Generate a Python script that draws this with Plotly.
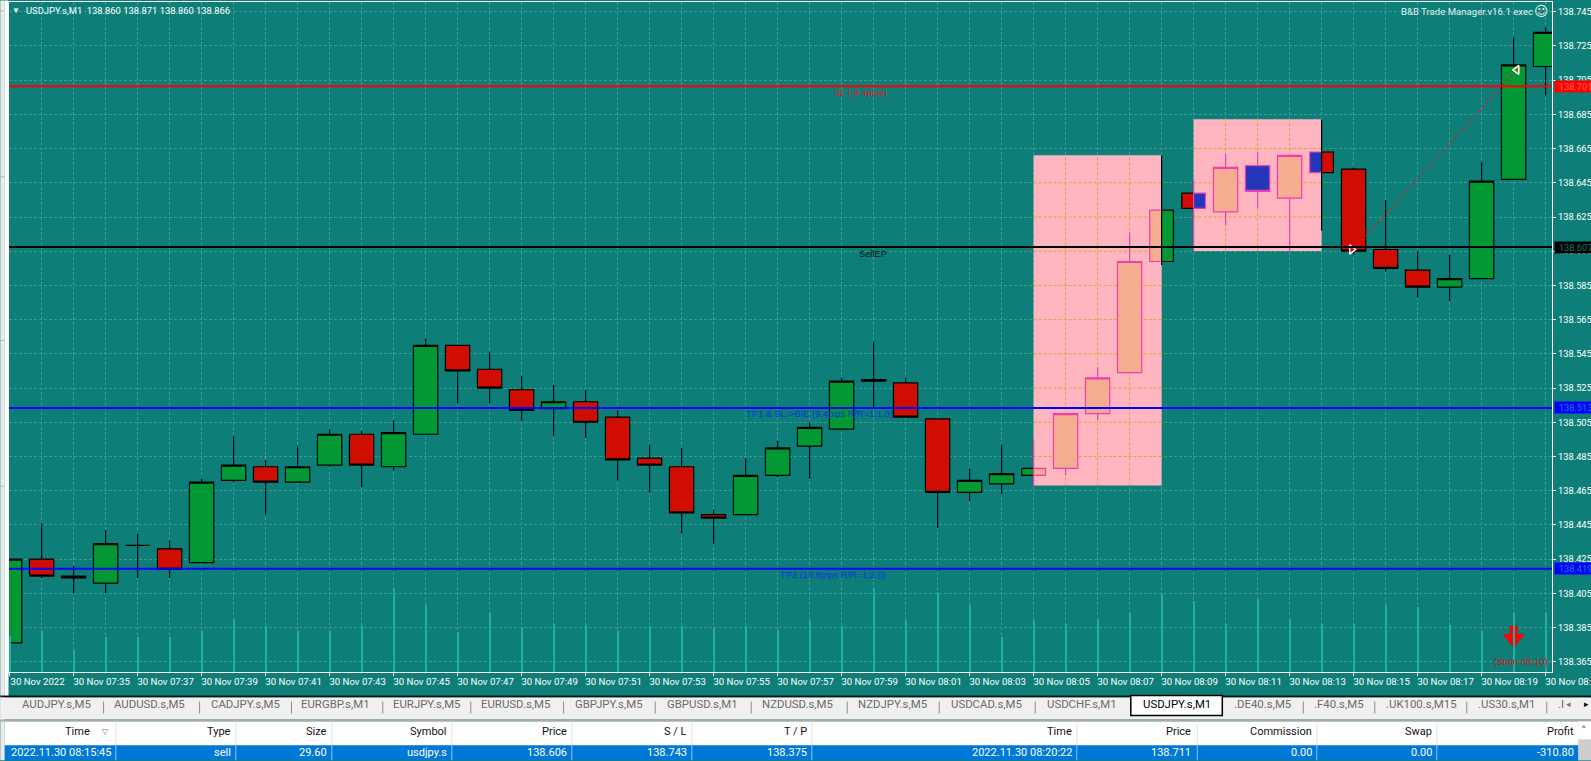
import plotly.graph_objects as go

W, H = 1591, 761
L, R, T, B = 8.7, 1551.7, 1.5, 672.5
FONT = "Roboto"
LINE_FONT = "Liberation Sans"

# ---------- data ----------
bar_index = list(range(49))
opens  = [138.376,138.425,138.415,138.411,138.433,138.431,138.423,138.471,138.479,138.470,138.480,138.498,138.479,138.498,138.550,138.536,138.524,138.513,138.517,138.508,138.484,138.479,138.451,138.451,138.474,138.491,138.501,138.530,138.528,138.507,138.464,138.469,138.474,138.478,138.510,138.534,138.599,138.639,138.628,138.655,138.636,138.663,138.653,138.606,138.594,138.584,138.589,138.647,138.713]
highs  = [138.425,138.446,138.421,138.442,138.440,138.436,138.472,138.497,138.483,138.491,138.501,138.500,138.506,138.554,138.550,138.546,138.532,138.527,138.524,138.512,138.492,138.490,138.454,138.484,138.494,138.505,138.531,138.552,138.531,138.507,138.478,138.492,138.495,138.510,138.537,138.616,138.661,138.647,138.662,138.663,138.661,138.682,138.654,138.635,138.605,138.603,138.657,138.730,138.736]
lows   = [138.376,138.414,138.405,138.405,138.414,138.414,138.423,138.470,138.451,138.470,138.479,138.467,138.477,138.498,138.516,138.516,138.506,138.497,138.496,138.471,138.464,138.440,138.434,138.451,138.473,138.472,138.501,138.513,138.508,138.443,138.459,138.463,138.468,138.474,138.506,138.534,138.597,138.605,138.620,138.630,138.605,138.617,138.603,138.593,138.578,138.576,138.589,138.647,138.696]
closes = [138.425,138.415,138.414,138.434,138.433,138.419,138.470,138.480,138.470,138.479,138.498,138.480,138.499,138.550,138.535,138.525,138.512,138.517,138.505,138.483,138.480,138.452,138.449,138.474,138.490,138.502,138.529,138.529,138.508,138.464,138.471,138.475,138.478,138.510,138.531,138.599,138.629,138.630,138.654,138.640,138.661,138.651,138.605,138.595,138.584,138.589,138.646,138.714,138.733]
volumes = [36,41,22,35,35,35,41,53,46,41,41,47,84,67,40,60,45,48,47,41,46,46,44,46,42,52,46,84,52,79,67,35,52,48,53,59,78,71,48,73,53,48,48,67,65,47,41,60,60]

y_ticks = [138.365,138.385,138.405,138.425,138.445,138.465,138.485,138.505,138.525,138.545,138.565,138.585,138.605,138.625,138.645,138.665,138.685,138.705,138.725,138.745]
x_ticks = [0,2,4,6,8,10,12,14,16,18,20,22,24,26,28,30,32,34,36,38,40,42,44,46,48]
x_labels = ["30 Nov 2022","30 Nov 07:35","30 Nov 07:37","30 Nov 07:39","30 Nov 07:41","30 Nov 07:43","30 Nov 07:45","30 Nov 07:47","30 Nov 07:49","30 Nov 07:51","30 Nov 07:53","30 Nov 07:55","30 Nov 07:57","30 Nov 07:59","30 Nov 08:01","30 Nov 08:03","30 Nov 08:05","30 Nov 08:07","30 Nov 08:09","30 Nov 08:11","30 Nov 08:13","30 Nov 08:15","30 Nov 08:17","30 Nov 08:19","30 Nov 08:21"]

sl_price, entry_price, tp1_price, tp2_price = 138.7014, 138.6074, 138.5134, 138.4194
zone_x0 = [32, 37]
zone_x1 = [36, 41]
zone_y0 = [138.4681, 138.6051]
zone_y1 = [138.6611, 138.6821]
trade_x = [42, 47.1]
trade_y = [138.606, 138.711]
signal_x = 47
signal_y = [138.3861, 138.3805]
signal_tip = 138.3785

tab_names = ["AUDJPY.s,M5","AUDUSD.s,M5","CADJPY.s,M5","EURGBP.s,M1","EURJPY.s,M5","EURUSD.s,M5","GBPJPY.s,M5","GBPUSD.s,M1","NZDUSD.s,M5","NZDJPY.s,M5","USDCAD.s,M5","USDCHF.s,M1","USDJPY.s,M1",".DE40.s,M5",".F40.s,M5",".UK100.s,M15",".US30.s,M1",".I"]
tab_left  = [21,113,209.5,300,392,480,574,666,761,857,949.5,1045.5,1142,1233,1313,1385,1477,1557]
tab_seps  = [102.8,198.8,290.7,382,470,562.8,654.4,750.4,846.4,938.4,1034.4,1302.5,1374,1466,1546]
col_headers = ["Time","Type","Size","Symbol","Price","S / L","T / P","Time","Price","Commission","Swap","Profit"]
col_values = ["2022.11.30 08:15:45","sell","29.60","usdjpy.s","138.606","138.743","138.375","2022.11.30 08:20:22","138.711","0.00","0.00","-310.80"]
col_right = [111.6,232,328,448,568,688,808,1073,1192,1313,1433,1575]
col_seps = [115,235,331,451,571,691,811,1076,1196.5,1316,1436,1578]

# ---------- helpers ----------
def fx(px): return (px - L) / (R - L)
def fy(py): return (B - py) / (B - T)

BG, GRID = "#0e7f78", "#3d9a94"
GREEN, RED = "#029833", "#cf0d00"
SALMON, BLUE, MAG = "#f4ad8e", "#2436bb", "#ee3fb0"
PINK, ORANGE = "#ffb6c1", "#dfa52a"
DASH = "3px,2px"
EDGE = 1.2

inside = [33, 34, 35, 38, 39, 40]
split = [32, 36, 37, 41]
normal = [i for i in bar_index if i not in inside and i not in split]

def pick(arr, idx): return [arr[i] for i in idx]

fig = go.Figure()

# volume lines
fig.add_trace(go.Bar(x=bar_index, y=volumes, yaxis="y2", width=0.03, marker=dict(color="#1fb0a4", line_width=0),
                     hoverinfo="skip", showlegend=False))

# candles split by a zone edge: two half bodies
half_w = 0.37
left_col  = {32: (GREEN, "black"), 36: (SALMON, MAG), 37: (RED, "black"), 41: (BLUE, MAG)}
right_col = {32: (SALMON, MAG), 36: (GREEN, "black"), 37: (BLUE, MAG), 41: (RED, "black")}
for cols, off in ((left_col, -half_w), (right_col, 0)):
    fig.add_trace(go.Bar(
        x=split, base=[min(opens[i], closes[i]) for i in split],
        y=[abs(closes[i] - opens[i]) for i in split],
        width=half_w, offset=off,
        marker=dict(color=[cols[i][0] for i in split], line=dict(color=[cols[i][1] for i in split], width=EDGE)),
        hoverinfo="skip", showlegend=False))

for col, idx in ((MAG, [32, 37]), ("black", [36, 41])):
    xs, ys = [], []
    for i in idx:
        top, bot = max(opens[i], closes[i]), min(opens[i], closes[i])
        xs += [i, i, None, i, i, None]
        ys += [highs[i], top, None, bot, lows[i], None]
    fig.add_trace(go.Scatter(x=xs, y=ys, mode="lines", line=dict(color=col, width=EDGE), hoverinfo="skip", showlegend=False))

# whole candles
def candles(idx, up, down, edge):
    fig.add_trace(go.Candlestick(
        x=idx, open=pick(opens, idx), high=pick(highs, idx), low=pick(lows, idx), close=pick(closes, idx),
        increasing=dict(fillcolor=up, line=dict(color=edge, width=EDGE)),
        decreasing=dict(fillcolor=down, line=dict(color=edge, width=EDGE)),
        whiskerwidth=0, showlegend=False, hoverinfo="skip"))

candles(normal, GREEN, RED, "black")
candles(inside, SALMON, BLUE, MAG)

# closed trade
fig.add_trace(go.Scatter(x=trade_x, y=trade_y, mode="lines", line=dict(color="#f01010", width=1.5, dash="2px,4px"),
                         hoverinfo="skip", showlegend=False))
fig.add_trace(go.Scatter(x=[trade_x[0] - 0.06], y=[trade_y[0]], mode="markers",
                         marker=dict(symbol="triangle-right", size=8, color=RED, line=dict(color="white", width=1.5)),
                         hoverinfo="skip", showlegend=False))
fig.add_trace(go.Scatter(x=[trade_x[1]], y=[trade_y[1]], mode="markers",
                         marker=dict(symbol="triangle-left", size=8, color="#7a7a00", line=dict(color="white", width=1.5)),
                         hoverinfo="skip", showlegend=False))

# 5 minute signal arrow
fig.add_trace(go.Scatter(x=[signal_x, signal_x], y=signal_y, mode="lines", line=dict(color="#ff0000", width=8),
                         hoverinfo="skip", showlegend=False))
fig.add_trace(go.Scatter(x=[signal_x], y=[signal_tip], mode="markers",
                         marker=dict(symbol="triangle-down", size=19, color="#ff0000", line_width=0),
                         hoverinfo="skip", showlegend=False))

# ---------- shapes ----------
shapes = []
for x0, x1, y0, y1 in zip(zone_x0, zone_x1, zone_y0, zone_y1):
    shapes.append(dict(type="rect", xref="x", yref="y", x0=x0, x1=x1, y0=y0, y1=y1, layer="between",
                       fillcolor=PINK, line_width=0))
    for v in y_ticks:
        if y0 < v < y1:
            shapes.append(dict(type="line", xref="x", yref="y", x0=x0, x1=x1, y0=v, y1=v, layer="between",
                               line=dict(color=ORANGE, width=1, dash=DASH)))
    for i in range(x0 + 1, x1):
        shapes.append(dict(type="line", xref="x", yref="y", x0=i, x1=i, y0=y0, y1=y1, layer="between",
                           line=dict(color=ORANGE, width=1, dash=DASH)))

for price, col in ((sl_price, "#ff0000"), (entry_price, "#000000"), (tp1_price, "#0000ff"), (tp2_price, "#0000ff")):
    shapes.append(dict(type="line", xref="paper", yref="y", x0=0, x1=1, y0=price, y1=price,
                       line=dict(color=col, width=2)))

def prect(x0, y0, x1, y1, fill, line=None, lw=0):
    shapes.append(dict(type="rect", xref="paper", yref="paper", x0=fx(x0), x1=fx(x1), y0=fy(y1), y1=fy(y0),
                       fillcolor=fill, line=dict(color=line or fill, width=lw), layer="above"))

# left window edge
prect(0, 0, 4.5, H, "#ececec")
prect(4.5, 0, 8.2, 697, "#ffffff")
for py in (10, 176, 340, 486):
    prect(0, py, 4, py + 1, "#b5b5b5")
# tab strip and table
prect(0, 696, W, 698, "#111111")
prect(0, 698, W, 720, "#f0f0f0")
prect(0, 720, W, 722, "#a9a9a9")
prect(4.5, 722, W, 746, "#ffffff")
prect(4.5, 746, W, H, "#0078d7")
prect(1130.5, 696, 1222, 716, "#ffffff", "#000000", 1.5)
for s in tab_seps:
    prect(s, 702, s + 1, 714, "#8a8a8a")
for s in col_seps:
    prect(s, 722, s + 1, 746, "#e3e3e3")
    prect(s, 746, s + 1, H, "#8ec3ee")
prect(1578, 722, W, 740, "#ffffff")
prect(1578, 740, W, H, "#cdcdcd")

# ---------- annotations ----------
ann = []
def text(px, py, s, color, size=9.6, anchor="left", family=FONT):
    ann.append(dict(xref="paper", yref="paper", x=fx(px), y=fy(py), text=s, showarrow=False, xanchor=anchor,
                    yanchor="middle", font=dict(family=family, size=size, color=color), borderpad=0))

text(15.5, 10, "▼", "#ffffff", 8, "center")
text(24.5, 10, "USDJPY.s,M1&nbsp;&nbsp;138.860 138.871 138.860 138.866", "#ffffff", 9.4)
text(1533.5, 11, "B&amp;B Trade Manager.v16.1 exec", "#e4f0ee", 9.6, "right")
text(1541, 11, "☺", "#e4f0ee", 14, "center", "DejaVu Sans")

for price, s, col, bg in ((sl_price, "138.701", "#ff6a50", "#ff0000"), (entry_price, "138.607", "#16756e", "#000000"),
                          (tp1_price, "138.513", "#1c78d0", "#0000ff"), (tp2_price, "138.419", "#1c78d0", "#0000ff")):
    ann.append(dict(xref="paper", yref="y", x=fx(1553.3), y=price, text=s, showarrow=False, xanchor="left", yanchor="middle",
                    bgcolor=bg, width=37.5, height=11.4, align="right", font=dict(family=FONT, size=9.3, color=col), borderpad=0))

# labels under the trade levels, centred on their own span
for px, price, s, col in ((860.5, sl_price, "SL (-9.4pips)", "#d81e2c"),
                          (872.5, entry_price, "SellEP", "#111111"),
                          (819.3, tp1_price, "TP1 &amp; SL-&gt;B/E (9.4pips R/R=1:1.0)", "#0a35e0"),
                          (833, tp2_price, "TP2 (18.8pips R/R=1:2.0)", "#0a35e0")):
    ann.append(dict(xref="paper", yref="y", x=fx(px), y=price, yshift=-6.5, text=s, showarrow=False, xanchor="center", yanchor="middle",
                    font=dict(family=LINE_FONT, size=9.3, color=col)))

text(1521, 662, "(5min 08:10)", "#d81010", 9.6, "center", LINE_FONT)

for name, px in zip(tab_names, tab_left):
    text(px, 705, name, "#000000" if name == "USDJPY.s,M1" else "#6b6b6b", 11.4)
for i, (h, v, px) in enumerate(zip(col_headers, col_values, col_right)):
    text(px - 21 if i == 0 else px, 732.5, h, "#111111", 11, "right")
    text(px, 753.5, v, "#ffffff", 11, "right")
text(105, 732.5, "▽", "#777777", 8, "center", "DejaVu Sans")
text(1584, 731, "˄", "#444444", 11, "center", "DejaVu Sans")
text(1568, 705, "◂", "#777777", 9, "center", "DejaVu Sans")
text(1586, 705, "▸", "#000000", 9, "center", "DejaVu Sans")

# ---------- layout ----------
fig.update_layout(
    width=W, height=H, margin=dict(l=L, r=W - R, t=T, b=H - B, autoexpand=False),
    paper_bgcolor=BG, plot_bgcolor=BG, showlegend=False, barmode="overlay",
    boxmode="overlay", boxgap=0.24, boxgroupgap=0,
    shapes=shapes, annotations=ann,
    font=dict(family=FONT, size=9.6, color="#ffffff"),
    xaxis=dict(range=[(L - 9.3) / 32, (R - 9.3) / 32], tickmode="array", tickvals=x_ticks, ticktext=x_labels,
               ticks="outside", ticklen=3, tickcolor="#ffffff", tickwidth=1.3, ticklabelshift=28, tickangle=0,
               ticklabeloverflow="allow", ticklabelstandoff=-3,
               showgrid=True, gridcolor=GRID, griddash=DASH, gridwidth=1,
               minor=dict(dtick=1, tick0=0, showgrid=True, gridcolor=GRID, griddash=DASH, gridwidth=1, ticks=""),
               showline=True, linecolor="#ffffff", linewidth=1.3, mirror=True, zeroline=False,
               tickfont=dict(family=FONT, size=9.6, color="#ffffff"),
               rangeslider=dict(visible=False), fixedrange=True),
    yaxis=dict(range=[138.3590, 138.7507], side="right", tickmode="array", tickvals=y_ticks, tickformat=".3f",
               ticks="outside", ticklen=3, tickcolor="#ffffff", tickwidth=1.3,
               showgrid=True, gridcolor=GRID, griddash=DASH, gridwidth=1,
               showline=True, linecolor="#ffffff", linewidth=1.3, mirror=True, zeroline=False,
               tickfont=dict(family=FONT, size=9.3, color="#ffffff"), fixedrange=True),
    yaxis2=dict(range=[0, B - T], overlaying="y", visible=False, fixedrange=True),
)

fig.write_html("out.html", config=dict(displayModeBar=False),
               post_script="document.body.style.margin='0';document.documentElement.style.overflow='hidden';")
